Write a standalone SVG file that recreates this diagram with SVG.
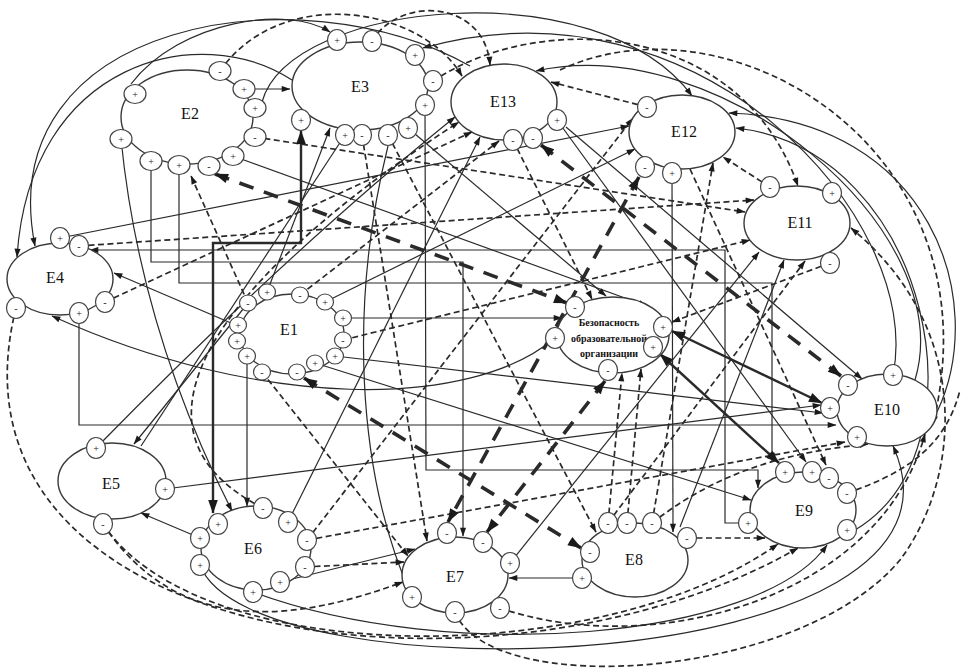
<svg xmlns="http://www.w3.org/2000/svg" width="966" height="668" viewBox="0 0 966 668">
<style>
.n{fill:#fff;stroke:#3a3a3a;stroke-width:1.4}
.lb{font-family:"Liberation Serif",serif;font-size:16px;fill:#111;text-anchor:middle}
.sf{font-family:"Liberation Serif",serif;font-size:10px;font-weight:bold;fill:#111;text-anchor:middle}
#connectors path{fill:none;stroke:#2a2a2a}
.c{stroke-width:1.2}
.d{stroke-width:1.7;stroke-dasharray:6 3.5}
.D{stroke-width:3.6;stroke-dasharray:15 11}
.T{stroke-width:2.4}
</style>
<defs>
<marker id="a" viewBox="0 0 10 8" refX="9.5" refY="4" markerWidth="10" markerHeight="7" markerUnits="userSpaceOnUse" orient="auto-start-reverse"><path d="M0,0.5 L10,4 L0,7.5 z" fill="#1a1a1a"/></marker>
<marker id="A" viewBox="0 0 10 8" refX="9.5" refY="4" markerWidth="16" markerHeight="11" markerUnits="userSpaceOnUse" orient="auto-start-reverse"><path d="M0,0.5 L10,4 L0,7.5 z" fill="#1a1a1a"/></marker>
<g id="p"><ellipse rx="9.5" ry="10.5" fill="#fff" stroke="#444" stroke-width="1.2"/><text y="3.5" font-family="'Liberation Serif',serif" font-size="10" fill="#222" text-anchor="middle">+</text></g>
<g id="m"><ellipse rx="9.5" ry="10.5" fill="#fff" stroke="#444" stroke-width="1.2"/><text y="3.5" font-family="'Liberation Serif',serif" font-size="10" fill="#222" text-anchor="middle">-</text></g>
<g id="ps"><ellipse rx="8.5" ry="8" fill="#fff" stroke="#444" stroke-width="1.2"/><text y="3.5" font-family="'Liberation Serif',serif" font-size="10" fill="#222" text-anchor="middle">+</text></g>
<g id="ms"><ellipse rx="8.5" ry="8" fill="#fff" stroke="#444" stroke-width="1.2"/><text y="3.5" font-family="'Liberation Serif',serif" font-size="10" fill="#222" text-anchor="middle">-</text></g>
<g id="pw"><ellipse rx="11" ry="9.5" fill="#fff" stroke="#444" stroke-width="1.2"/><text y="3.5" font-family="'Liberation Serif',serif" font-size="10" fill="#222" text-anchor="middle">+</text></g>
<g id="mw"><ellipse rx="11" ry="9.5" fill="#fff" stroke="#444" stroke-width="1.2"/><text y="3.5" font-family="'Liberation Serif',serif" font-size="10" fill="#222" text-anchor="middle">-</text></g>
</defs>
<rect width="966" height="668" fill="#fff"/>
<g id="connectors">
<path class="c" d="M244,89 L290,89" marker-end="url(#a)"/>
<path class="c" d="M121,139 Q140,330 232,511" marker-end="url(#a)"/>
<path class="c" d="M233,156 L647,306" marker-end="url(#a)"/>
<path class="c" d="M60,238 L629,126" marker-end="url(#a)"/>
<path class="c" d="M238,326 L114,273" marker-end="url(#a)"/>
<path class="c" d="M555,338 C470,410 260,410 52,316" marker-end="url(#a)"/>
<path class="c" d="M267,292 L330,128" marker-end="url(#a)"/>
<path class="c" d="M325,302 L635,149" marker-end="url(#a)"/>
<path class="c" d="M343,318 L562,318" marker-end="url(#a)"/>
<path class="c" d="M335,356 L823,413" marker-end="url(#a)"/>
<path class="c" d="M315,363 L751,500" marker-end="url(#a)"/>
<path class="c" d="M248,303 L134,444" marker-end="url(#a)"/>
<path class="c" d="M345,135 L141,446"/>
<path class="c" d="M96,448 Q290,250 455,117" marker-end="url(#a)"/>
<path class="c" d="M165,489 L821,405" marker-end="url(#a)"/>
<path class="c" d="M200,538 L141,513" marker-end="url(#a)"/>
<path class="c" d="M288,522 L480,137" marker-end="url(#a)"/>
<path class="c" d="M280,582 L415,549" marker-end="url(#a)"/>
<path class="c" d="M247,355 L247,506" marker-end="url(#a)"/>
<path class="c" d="M582,578 L509,578" marker-end="url(#a)"/>
<path class="c" d="M672,173 L673,532" marker-end="url(#a)"/>
<path class="c" d="M510,563 L759,252" marker-end="url(#a)"/>
<path class="c" d="M557,120 L806,462" marker-end="url(#a)"/>
<path class="c" d="M893,375 C925,220 700,-30 423,48" marker-end="url(#a)"/>
<path class="c" d="M915,380 C960,230 720,30 536,71" marker-end="url(#a)"/>
<path class="c" d="M470,66 C300,-30 -10,20 35,246" marker-end="url(#a)"/>
<path class="c" d="M292,80 C200,20 30,60 17,257" marker-end="url(#a)"/>
<path class="c" d="M131,84 C180,20 290,5 330,32" marker-end="url(#a)"/>
<path class="c" d="M262,102 C290,0 600,-30 692,96" marker-end="url(#a)"/>
<path class="c" d="M855,530 C990,450 930,150 736,128" marker-end="url(#a)"/>
<path class="c" d="M937,412 C990,300 930,120 729,113" marker-end="url(#a)"/>
<path class="c" d="M200,565 C250,700 1000,680 893,446" marker-end="url(#a)"/>
<path class="c" d="M253,592 C450,665 760,640 827,545" marker-end="url(#a)"/>
<path class="c" d="M566,127 L862,379" marker-end="url(#a)"/>
<path class="c" d="M408,128 L606,296" marker-end="url(#a)"/>
<path class="c" d="M680,527 L784,260" marker-end="url(#a)"/>
<path class="c" d="M412,597 C355,470 350,300 388,146"/>
<path class="c" d="M748,523 L725,523 L725,250 L90,250" marker-end="url(#a)"/>
<path class="c" d="M151,161 L151,262 L463,262 L463,536" marker-end="url(#a)"/>
<path class="c" d="M179,165 L179,283 L772,283 L772,461" marker-end="url(#a)"/>
<path class="c" d="M425,105 L426,470 L758,470 L758,488" marker-end="url(#a)"/>
<path class="c" d="M79,313 L79,425 L836,425" marker-end="url(#a)"/>
<path class="d" d="M220,71 C280,-15 420,5 462,76" marker-end="url(#a)"/>
<path class="d" d="M372,41 C400,-5 485,0 490,65" marker-end="url(#a)"/>
<path class="d" d="M433,81 C540,10 740,20 798,186" marker-end="url(#a)"/>
<path class="d" d="M647,107 L551,82" marker-end="url(#a)"/>
<path class="d" d="M255,137 L745,212" marker-end="url(#a)"/>
<path class="d" d="M79,246 L754,200" marker-end="url(#a)"/>
<path class="d" d="M105,302 L472,132" marker-end="url(#a)"/>
<path class="d" d="M248,303 L191,176" marker-end="url(#a)"/>
<path class="d" d="M300,295 L499,141" marker-end="url(#a)"/>
<path class="d" d="M343,340 L750,240" marker-end="url(#a)"/>
<path class="d" d="M262,372 L408,556" marker-end="url(#a)"/>
<path class="d" d="M362,135 L427,541" marker-end="url(#a)"/>
<path class="d" d="M388,135 L596,532" marker-end="url(#a)"/>
<path class="d" d="M513,140 L592,299" marker-end="url(#a)"/>
<path class="d" d="M770,187 L723,157" marker-end="url(#a)"/>
<path class="d" d="M652,523 L713,163" marker-end="url(#a)"/>
<path class="d" d="M608,523 L622,373" marker-end="url(#a)"/>
<path class="d" d="M627,523 L641,369" marker-end="url(#a)"/>
<path class="d" d="M687,538 L765,538" marker-end="url(#a)"/>
<path class="d" d="M263,508 C90,420 260,250 459,122" marker-end="url(#a)"/>
<path class="d" d="M307,540 L845,442" marker-end="url(#a)"/>
<path class="d" d="M305,567 L404,562" marker-end="url(#a)"/>
<path class="d" d="M455,612 C490,700 800,680 900,560 C960,480 975,330 851,228" marker-end="url(#a)"/>
<path class="d" d="M500,608 C650,660 880,600 925,434" marker-end="url(#a)"/>
<path class="d" d="M16,308 C-70,650 500,720 798,548" marker-end="url(#a)"/>
<path class="d" d="M103,524 C200,670 600,670 778,544" marker-end="url(#a)"/>
<path class="d" d="M103,524 C180,640 300,620 403,582" marker-end="url(#a)"/>
<path class="d" d="M847,493 C900,475 945,450 960,390"/>
<path class="d" d="M690,169 L826,465" marker-end="url(#a)"/>
<path class="d" d="M608,523 L805,261" marker-end="url(#a)"/>
<path class="d" d="M652,523 C720,470 790,452 868,444" marker-end="url(#a)"/>
<path class="d" d="M307,540 L633,118" marker-end="url(#a)"/>
<path class="d" d="M560,70 C730,-10 1000,150 933,424" marker-end="url(#a)"/>
<path class="d" d="M830,263 L672,322" marker-end="url(#a)"/>
<path class="D" d="M215,174 L567,303" marker-start="url(#A)" marker-end="url(#A)"/>
<path class="D" d="M541,145 L841,376" marker-start="url(#A)" marker-end="url(#A)"/>
<path class="D" d="M639,177 L448,522" marker-start="url(#A)" marker-end="url(#A)"/>
<path class="D" d="M605,381 L487,532" marker-start="url(#A)" marker-end="url(#A)"/>
<path class="D" d="M304,378 L581,548" marker-start="url(#A)" marker-end="url(#A)"/>
<path class="T" d="M213,513 L213,243 L301,243 L301,131" marker-start="url(#A)" marker-end="url(#A)"/>
<path class="T" d="M672,331 L822,403" marker-start="url(#A)" marker-end="url(#A)"/>
<path class="T" d="M660,354 L779,463" marker-start="url(#A)" marker-end="url(#A)"/>
</g>
<g id="E2"><ellipse class="n" cx="187" cy="117" rx="66" ry="47"/><text class="lb" x="190" y="119">E2</text>
<use href="#pw" x="135" y="94"/><use href="#mw" x="220" y="71"/><use href="#pw" x="244" y="89"/><use href="#pw" x="255" y="108"/><use href="#mw" x="255" y="137"/><use href="#pw" x="233" y="156"/><use href="#mw" x="209" y="166"/><use href="#pw" x="179" y="165"/><use href="#pw" x="151" y="161"/><use href="#pw" x="121" y="139"/></g>
<g id="E3"><ellipse class="n" cx="360" cy="86" rx="68" ry="44"/><text class="lb" x="360" y="92">E3</text>
<use href="#p" x="337" y="40"/><use href="#m" x="372" y="41"/><use href="#p" x="415" y="55"/><use href="#m" x="433" y="81"/><use href="#p" x="425" y="105"/><use href="#p" x="408" y="128"/><use href="#m" x="388" y="135"/><use href="#m" x="362" y="135"/><use href="#p" x="345" y="135"/><use href="#p" x="301" y="120"/></g>
<g id="E13"><ellipse class="n" cx="504" cy="102" rx="53" ry="38"/><text class="lb" x="503" y="107">E13</text>
<use href="#m" x="513" y="140"/><use href="#m" x="533" y="138"/><use href="#p" x="557" y="120"/></g>
<g id="E12"><ellipse class="n" cx="682" cy="132" rx="53" ry="37"/><text class="lb" x="684" y="137">E12</text>
<use href="#m" x="647" y="107"/><use href="#m" x="645" y="167"/><use href="#p" x="672" y="173"/></g>
<g id="E11"><ellipse class="n" cx="797" cy="223" rx="53" ry="37"/><text class="lb" x="800" y="228">E11</text>
<use href="#m" x="770" y="187"/><use href="#p" x="832" y="193"/><use href="#m" x="830" y="263"/></g>
<g id="E4"><ellipse class="n" cx="60" cy="279" rx="53" ry="36"/><text class="lb" x="55" y="283">E4</text>
<use href="#p" x="60" y="238"/><use href="#m" x="79" y="246"/><use href="#m" x="105" y="302"/><use href="#p" x="79" y="313"/><use href="#m" x="16" y="308"/></g>
<g id="E1"><ellipse class="n" cx="292" cy="334" rx="52" ry="40"/><text class="lb" x="289" y="335">E1</text>
<use href="#ps" x="238" y="325"/><use href="#ps" x="237" y="341"/><use href="#ps" x="247" y="356"/><use href="#ms" x="262" y="372"/><use href="#ms" x="297" y="372"/><use href="#ps" x="315" y="363"/><use href="#ps" x="335" y="356"/><use href="#ms" x="343" y="340"/><use href="#ps" x="343" y="318"/><use href="#ps" x="325" y="302"/><use href="#ms" x="300" y="295"/><use href="#ps" x="267" y="292"/><use href="#ms" x="248" y="303"/></g>
<g id="S"><ellipse class="n" cx="613" cy="335" rx="56" ry="38"/><text class="sf" x="609" y="326">Безопасность</text><text class="sf" x="609" y="342">образовательной</text><text class="sf" x="609" y="357">организации</text>
<use href="#m" x="575" y="307"/><use href="#p" x="555" y="338"/><use href="#p" x="663" y="327"/><use href="#p" x="653" y="347"/><use href="#m" x="608" y="370"/></g>
<g id="E10"><ellipse class="n" cx="887" cy="410" rx="50" ry="36"/><text class="lb" x="887" y="415">E10</text>
<use href="#p" x="893" y="375"/><use href="#m" x="848" y="385"/><use href="#p" x="830" y="408"/><use href="#p" x="857" y="437"/></g>
<g id="E9"><ellipse class="n" cx="803" cy="510" rx="53" ry="38"/><text class="lb" x="804" y="516">E9</text>
<use href="#p" x="785" y="472"/><use href="#p" x="812" y="472"/><use href="#m" x="829" y="478"/><use href="#m" x="847" y="493"/><use href="#p" x="847" y="530"/><use href="#p" x="748" y="523"/></g>
<g id="E8"><ellipse class="n" cx="635" cy="560" rx="53" ry="37"/><text class="lb" x="634" y="565">E8</text>
<use href="#m" x="608" y="523"/><use href="#m" x="627" y="523"/><use href="#m" x="652" y="523"/><use href="#m" x="687" y="538"/><use href="#m" x="590" y="552"/><use href="#p" x="582" y="578"/></g>
<g id="E7"><ellipse class="n" cx="455" cy="575" rx="53" ry="38"/><text class="lb" x="455" y="582">E7</text>
<use href="#m" x="447" y="533"/><use href="#m" x="483" y="542"/><use href="#p" x="510" y="563"/><use href="#m" x="500" y="608"/><use href="#m" x="455" y="612"/><use href="#p" x="412" y="597"/></g>
<g id="E6"><ellipse class="n" cx="256" cy="548" rx="55" ry="42"/><text class="lb" x="253" y="554">E6</text>
<use href="#m" x="263" y="508"/><use href="#p" x="288" y="522"/><use href="#m" x="307" y="540"/><use href="#m" x="305" y="567"/><use href="#p" x="280" y="582"/><use href="#p" x="253" y="592"/><use href="#p" x="200" y="565"/><use href="#p" x="200" y="538"/><use href="#p" x="218" y="524"/></g>
<g id="E5"><ellipse class="n" cx="112" cy="481" rx="54" ry="38"/><text class="lb" x="111" y="489">E5</text>
<use href="#p" x="96" y="448"/><use href="#p" x="165" y="489"/><use href="#m" x="103" y="524"/></g>
</svg>
